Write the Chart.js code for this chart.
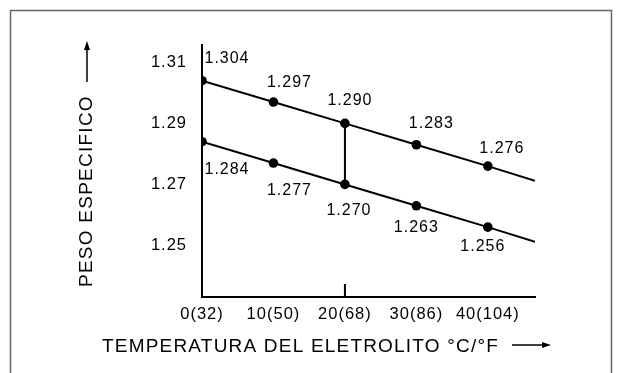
<!DOCTYPE html>
<html>
<head>
<meta charset="utf-8">
<script src="https://cdn.jsdelivr.net/npm/chart.js@4/dist/chart.umd.min.js"></script>
<style>
  html, body { margin: 0; padding: 0; background: #fff; }
  #c { display: block; }
</style>
</head>
<body>
<canvas id="c" width="621" height="373"></canvas>
<script>
// ---- data ----
const temps = [0, 10, 20, 30, 40];
const tempLabels = ['0(32)', '10(50)', '20(68)', '30(86)', '40(104)'];
const upperSG = [1.304, 1.297, 1.290, 1.283, 1.276];
const lowerSG = [1.284, 1.277, 1.270, 1.263, 1.256];
const yTicks = [1.25, 1.27, 1.29, 1.31];
const yTickLabels = ['1.25', '1.27', '1.29', '1.31'];
const lineEndTemp = 46.6;
const upperEnd = 1.2712;
const lowerEnd = 1.2512;
const connectorTemp = 20;
const xTitle = 'TEMPERATURA DEL ELETROLITO °C/°F';
const yTitle = 'PESO ESPECIFICO';

// ---- styling ----
const FONT = '"Liberation Sans", Arial, Helvetica, sans-serif';
const upperOffsets = [[25, -22], [16, -19], [5, -23], [15, -21], [14, -18]];
const lowerOffsets = [[25, 28], [16, 28], [4, 26], [0, 22], [-5, 19]];

const pts = (xs, ys) => xs.map((x, i) => ({ x: x, y: ys[i] }));

const lineStyle = {
  borderColor: '#000', backgroundColor: '#000', borderWidth: 2,
  pointRadius: 4.8, pointHoverRadius: 4.8, pointBackgroundColor: '#000',
  pointBorderWidth: 0, tension: 0, fill: false
};
const plainLine = {
  borderColor: '#000', borderWidth: 2, pointRadius: 0, tension: 0, fill: false
};

function arrowHead(ctx, x, y, dir, len, half) {
  ctx.beginPath();
  if (dir === 'right') {
    ctx.moveTo(x, y); ctx.lineTo(x - len, y - half); ctx.lineTo(x - len, y + half);
  } else {
    ctx.moveTo(x, y); ctx.lineTo(x - half, y + len); ctx.lineTo(x + half, y + len);
  }
  ctx.closePath();
  ctx.fill();
}

const decorPlugin = {
  id: 'decor',
  beforeDraw(chart) {
    const ctx = chart.ctx;
    ctx.save();
    ctx.fillStyle = '#fff';
    ctx.fillRect(0, 0, chart.width, chart.height);
    ctx.restore();
    ctx.letterSpacing = '1px';
  },
  afterDraw(chart) {
    const ctx = chart.ctx;
    const xs = chart.scales.x;
    ctx.save();
    // outer frame (open at the bottom)
    ctx.strokeStyle = '#666';
    ctx.lineWidth = 1.5;
    ctx.beginPath();
    ctx.moveTo(10.5, chart.height);
    ctx.lineTo(10.5, 10.5);
    ctx.lineTo(611.5, 10.5);
    ctx.lineTo(611.5, chart.height);
    ctx.stroke();

    // tick mark at 20 °C (pointing up into the plot)
    const tx = xs.getPixelForValue(connectorTemp);
    ctx.strokeStyle = '#000';
    ctx.lineWidth = 2;
    ctx.beginPath();
    ctx.moveTo(tx, xs.top);
    ctx.lineTo(tx, xs.top - 13);
    ctx.stroke();

    // value labels
    ctx.fillStyle = '#000';
    ctx.font = '16px ' + FONT;
    ctx.letterSpacing = '1px';
    ctx.textAlign = 'center';
    ctx.textBaseline = 'middle';
    const m0 = chart.getDatasetMeta(0), m1 = chart.getDatasetMeta(1);
    m0.data.forEach((p, i) => {
      ctx.fillText(upperSG[i].toFixed(3), p.x + upperOffsets[i][0], p.y + upperOffsets[i][1]);
    });
    m1.data.forEach((p, i) => {
      ctx.fillText(lowerSG[i].toFixed(3), p.x + lowerOffsets[i][0], p.y + lowerOffsets[i][1]);
    });

    // x axis title + arrow
    ctx.font = '19px ' + FONT;
    ctx.letterSpacing = '1.2px';
    ctx.textAlign = 'left';
    ctx.textBaseline = 'alphabetic';
    ctx.fillText(xTitle, 102, 352);
    ctx.lineWidth = 1.5;
    ctx.beginPath();
    ctx.moveTo(512, 345);
    ctx.lineTo(545, 345);
    ctx.stroke();
    arrowHead(ctx, 551, 345, 'right', 9, 3);

    // y axis title + arrow
    ctx.save();
    ctx.translate(87, 287);
    ctx.rotate(-Math.PI / 2);
    ctx.textAlign = 'left';
    ctx.textBaseline = 'middle';
    ctx.letterSpacing = '1.25px';
    ctx.fillText(yTitle, 0, 0);
    ctx.restore();
    ctx.beginPath();
    ctx.moveTo(87, 82);
    ctx.lineTo(87, 48);
    ctx.stroke();
    arrowHead(ctx, 87, 41, 'up', 9, 3);
    ctx.restore();
    ctx.letterSpacing = '1px';
  }
};

new Chart(document.getElementById('c'), {
  type: 'line',
  data: {
    datasets: [
      Object.assign({ data: pts(temps, upperSG) }, lineStyle),
      Object.assign({ data: pts(temps, lowerSG) }, lineStyle),
      Object.assign({ data: [{ x: temps[4], y: upperSG[4] }, { x: lineEndTemp, y: upperEnd }] }, plainLine),
      Object.assign({ data: [{ x: temps[4], y: lowerSG[4] }, { x: lineEndTemp, y: lowerEnd }] }, plainLine),
      Object.assign({ data: [{ x: connectorTemp, y: upperSG[2] }, { x: connectorTemp, y: lowerSG[2] }] }, plainLine)
    ]
  },
  options: {
    responsive: false,
    animation: false,
    events: [],
    layout: { padding: { left: 0, top: 45, right: 86, bottom: 36 } },
    plugins: { legend: { display: false }, tooltip: { enabled: false }, title: { display: false } },
    scales: {
      x: {
        type: 'linear', min: 0, max: lineEndTemp,
        grid: { display: false, drawTicks: false },
        border: { display: true, color: '#000', width: 2 },
        afterBuildTicks: s => { s.ticks = temps.map(v => ({ value: v })); },
        afterFit: s => { s.height = 40; },
        ticks: {
          color: '#000', padding: 8, maxRotation: 0, autoSkip: false,
          font: { family: FONT, size: 16.5 },
          callback: v => tempLabels[temps.indexOf(v)]
        }
      },
      y: {
        type: 'linear', min: 1.2331, max: 1.3157,
        grid: { display: false, drawTicks: false },
        border: { display: true, color: '#000', width: 2 },
        afterBuildTicks: s => { s.ticks = yTicks.map(v => ({ value: v })); },
        afterFit: s => { s.width = 202; },
        ticks: {
          color: '#000', padding: 15,
          font: { family: FONT, size: 16.5 },
          callback: v => yTickLabels[yTicks.indexOf(v)]
        }
      }
    }
  },
  plugins: [decorPlugin]
});
</script>
</body>
</html>
